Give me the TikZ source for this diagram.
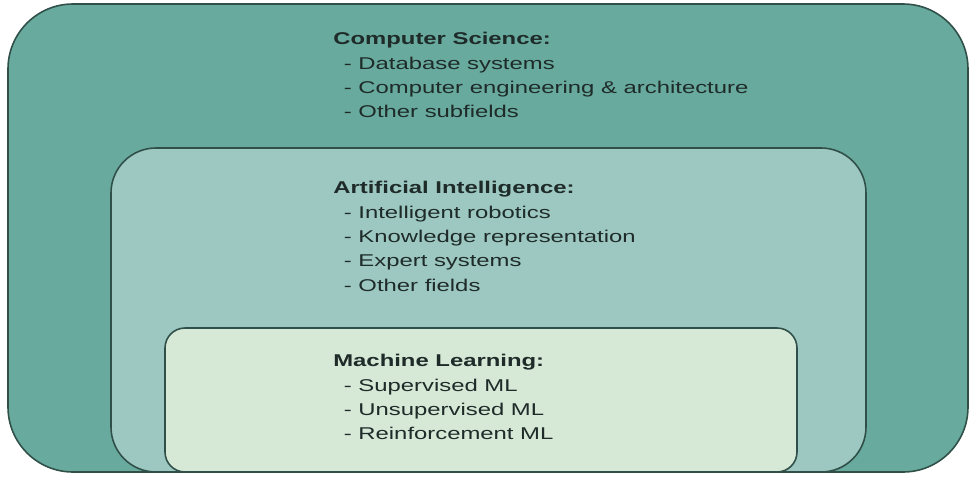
\documentclass[tikz,border=0pt]{standalone}
\usepackage{fontspec}
\setmainfont[FakeStretch=1.4]{Liberation Sans}
\usepackage{tikz}
\usetikzlibrary{positioning}
\definecolor{csgreen}{HTML}{68AA9E}
\definecolor{aigreen}{HTML}{9DC8C1}
\definecolor{mlgreen}{HTML}{D6E8D6}
\definecolor{rim}{HTML}{2F4F48}
\definecolor{ink}{HTML}{1E2B29}
\newcommand{\subfield}[1]{\hspace*{6pt}- #1}
\tikzstyle{field}=[draw=rim, line width=0.9pt]
\tikzstyle{fieldlist}=[anchor=north west, inner sep=0pt, align=left, text=ink,
    font=\fontsize{9.7pt}{13.9pt}\selectfont]

\begin{document}
\begin{tikzpicture}[x=0.02cm, y=-0.02cm]
\useasboundingbox (0,0) rectangle (971,477);
\draw[field, fill=csgreen, rounded corners=1.3cm] (8,4) rectangle (968,472);
\draw[field, fill=aigreen, rounded corners=0.9cm] (111,148) rectangle (866,472);
\draw[field, fill=mlgreen, rounded corners=0.4cm] (165,328) rectangle (797,472);
\node[fieldlist] (cs) at (333,32) {\textbf{Computer Science:}\\
    \subfield{Database systems}\\
    \subfield{Computer engineering \& architecture}\\
    \subfield{Other subfields}};
\node[fieldlist] (ai) at (333,181) {\textbf{Artificial Intelligence:}\\
    \subfield{Intelligent robotics}\\
    \subfield{Knowledge representation}\\
    \subfield{Expert systems}\\
    \subfield{Other fields}};
\node[fieldlist] (ml) at (333,354) {\textbf{Machine Learning:}\\
    \subfield{Supervised ML}\\
    \subfield{Unsupervised ML}\\
    \subfield{Reinforcement ML}};
\end{tikzpicture}
\end{document}
